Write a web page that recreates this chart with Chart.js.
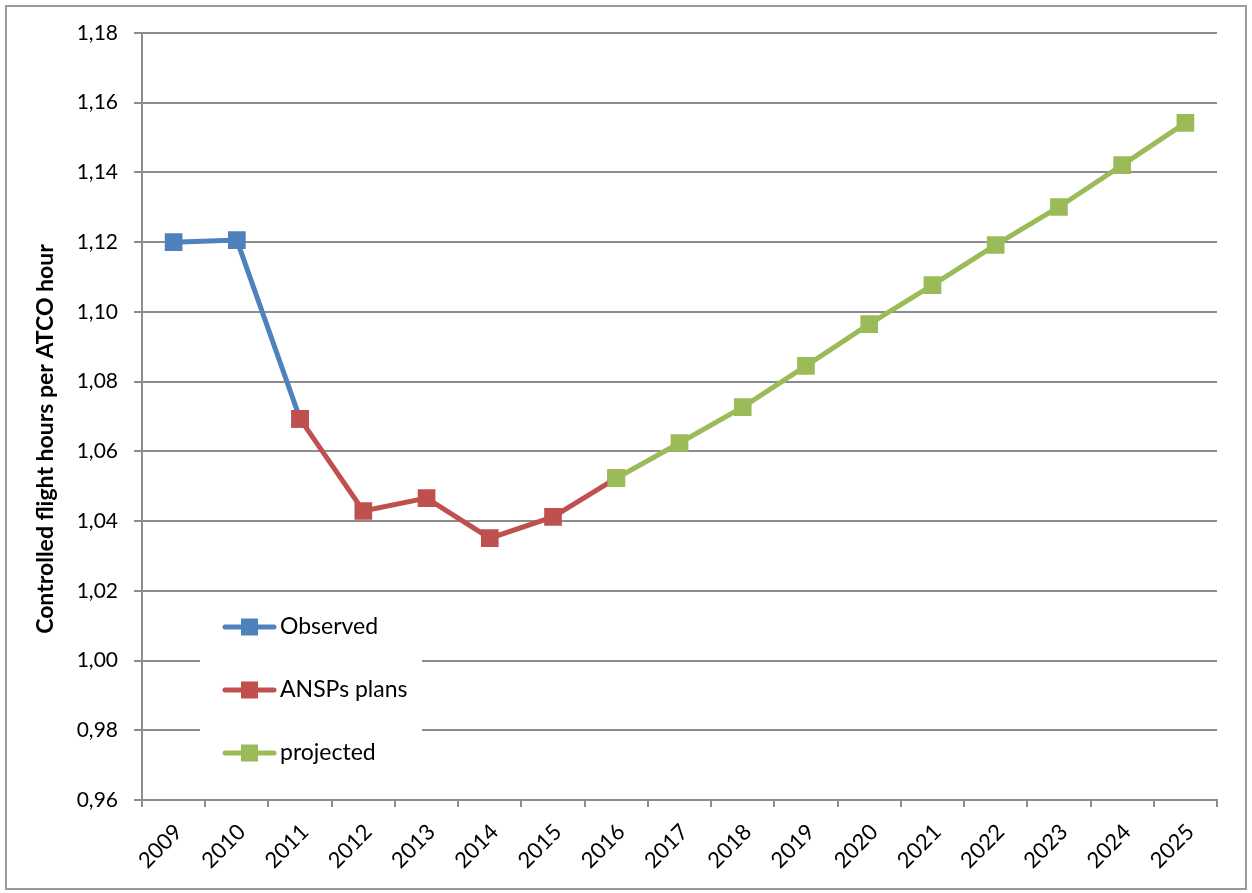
<!DOCTYPE html>
<html>
<head>
<meta charset="utf-8">
<script src="https://cdn.jsdelivr.net/npm/chart.js@4/dist/chart.umd.min.js"></script>
<style>
  html, body { margin: 0; padding: 0; background: #ffffff; }
  #c { display: block; }
</style>
</head>
<body>
<canvas id="c" width="1252" height="893"></canvas>
<script>
// Years on the category axis
const years = ['2009','2010','2011','2012','2013','2014','2015','2016','2017',
               '2018','2019','2020','2021','2022','2023','2024','2025'];

// Controlled flight hours per ATCO hour
const observed    = [1.1200, 1.1206, 1.0693, null, null, null, null, null, null,
                     null, null, null, null, null, null, null, null];
const ansspPlans  = [null, null, 1.0693, 1.0429, 1.0466, 1.0351, 1.0412, 1.0523, null,
                     null, null, null, null, null, null, null, null];
const projected   = [null, null, null, null, null, null, null, 1.0523, 1.0624,
                     1.0727, 1.0845, 1.0965, 1.1077, 1.1192, 1.1301, 1.1421, 1.1542];

// Value axis range
const yMin = 0.96;
const yMax = 1.18;
const yStep = 0.02;

const seriesLabels = ['Observed', 'ANSPs plans', 'projected'];
const seriesColors = ['#4F81BD', '#C0504D', '#9BBB59'];
const yTitle = 'Controlled flight hours per ATCO hour';

const FONT = 'Lato, "Open Sans", "DejaVu Sans", sans-serif';
const GRID = '#8c8c8c';

function series(label, data, color, order) {
  return {
    label, data, order,
    borderColor: color,
    backgroundColor: color,
    borderWidth: 5,
    tension: 0,
    spanGaps: false,
    pointStyle: 'rect',
    pointRadius: 12.5,
    pointHoverRadius: 12.5,
    pointBackgroundColor: color,
    pointBorderColor: color,
    pointBorderWidth: 0
  };
}

// White page with a thin frame around the whole chart
const framePlugin = {
  id: 'frame',
  beforeDraw(chart) {
    const ctx = chart.ctx;
    ctx.save();
    ctx.fillStyle = '#ffffff';
    ctx.fillRect(0, 0, chart.width, chart.height);
    ctx.strokeStyle = '#9a9a9a';
    ctx.lineWidth = 2;
    ctx.strokeRect(6, 6, chart.width - 12, chart.height - 10);
    ctx.restore();
  }
};

// Rotated value-axis title
const yTitlePlugin = {
  id: 'yTitle',
  afterDraw(chart) {
    const ctx = chart.ctx;
    ctx.save();
    ctx.translate(46, 439);
    ctx.rotate(-Math.PI / 2);
    ctx.font = 'bold 23px ' + FONT;
    ctx.fillStyle = '#000000';
    ctx.textAlign = 'center';
    ctx.textBaseline = 'middle';
    ctx.fillText(yTitle, 0, 0);
    ctx.restore();
  }
};

// Legend drawn inside the plot area, on a white patch
const insideLegend = {
  id: 'insideLegend',
  afterDatasetsDraw(chart) {
    const ctx = chart.ctx;
    const x0 = 200, y0 = 600, w = 222, h = 170;
    ctx.save();
    ctx.fillStyle = '#ffffff';
    ctx.fillRect(x0, y0, w, h);
    chart.data.datasets.forEach((ds, i) => {
      const cy = 627 + i * 63;
      ctx.strokeStyle = ds.borderColor;
      ctx.lineWidth = 5;
      ctx.lineCap = 'round';
      ctx.beginPath();
      ctx.moveTo(225, cy);
      ctx.lineTo(274, cy);
      ctx.stroke();
      ctx.fillStyle = ds.backgroundColor;
      ctx.fillRect(249.5 - 8.5, cy - 8.5, 17, 17);
      ctx.fillStyle = '#000000';
      ctx.font = '23px ' + FONT;
      ctx.textAlign = 'left';
      ctx.textBaseline = 'middle';
      ctx.fillText(ds.label, 280, cy);
    });
    ctx.restore();
  }
};

new Chart(document.getElementById('c'), {
  type: 'line',
  data: {
    labels: years,
    datasets: [
      series(seriesLabels[0], observed,   seriesColors[0], 3),
      series(seriesLabels[1], ansspPlans, seriesColors[1], 2),
      series(seriesLabels[2], projected,  seriesColors[2], 1)
    ]
  },
  options: {
    responsive: false,
    animation: false,
    layout: { padding: { top: 33, right: 35, left: 0, bottom: 0 } },
    plugins: {
      legend: { display: false },
      tooltip: { enabled: false }
    },
    scales: {
      x: {
        type: 'category',
        offset: true,
        afterFit(scale) { scale.height = 93; },
        grid: {
          offset: true,
          drawOnChartArea: false,
          drawTicks: true,
          tickLength: 7,
          color: GRID,
          lineWidth: 2
        },
        border: { display: true, color: GRID, width: 2 },
        ticks: {
          color: '#000000',
          font: { family: FONT, size: 22 },
          minRotation: 45,
          maxRotation: 45,
          autoSkip: false,
          labelOffset: 5,
          padding: 12
        }
      },
      y: {
        min: yMin,
        max: yMax,
        afterFit(scale) { scale.width = 142; },
        grid: {
          color: GRID,
          lineWidth: 2,
          drawTicks: true,
          tickLength: 8
        },
        border: { display: true, color: GRID, width: 2 },
        ticks: {
          stepSize: yStep,
          color: '#000000',
          font: { family: FONT, size: 21 },
          padding: 16,
          callback: (v) => Number(v).toFixed(2).replace('.', ',')
        }
      }
    }
  },
  plugins: [framePlugin, yTitlePlugin, insideLegend]
});
</script>
</body>
</html>
